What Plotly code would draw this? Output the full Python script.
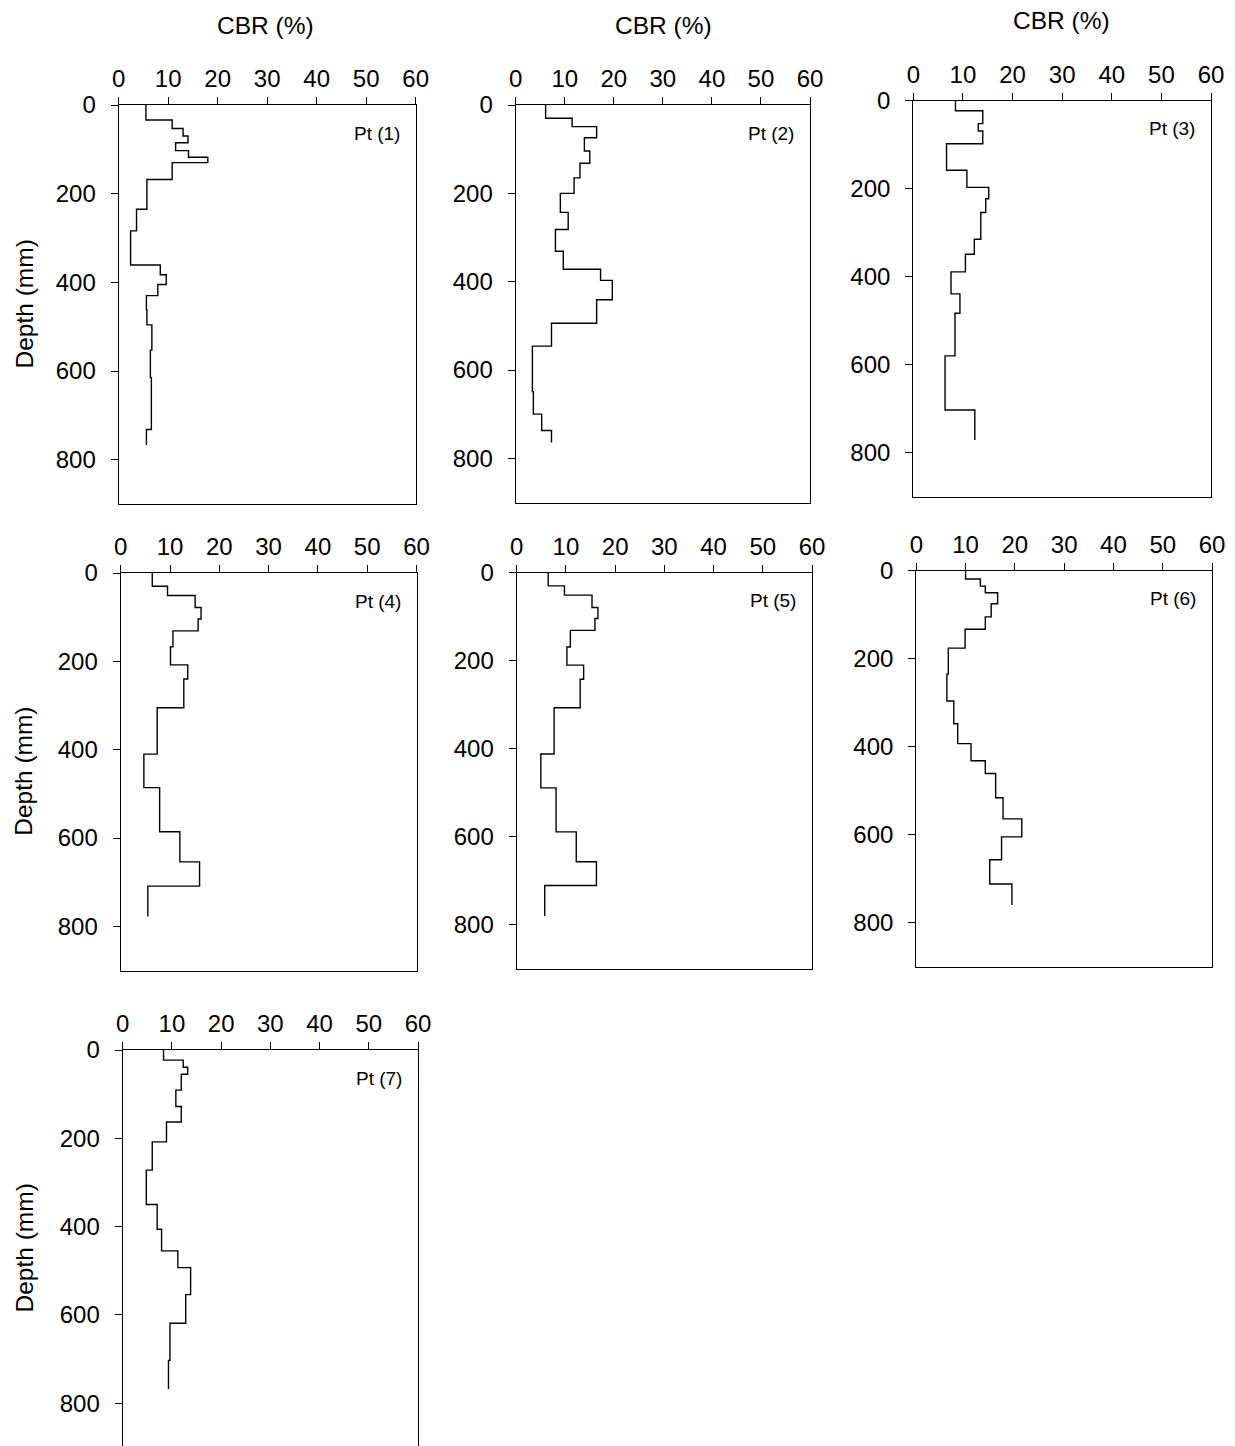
import plotly.graph_objects as go

# CBR (%) profiles with depth (mm); each layer spans depth_edges[i]..depth_edges[i+1]
pt1_depth_edges = [0, 34, 53, 70, 85, 103, 118, 130, 168, 235, 284, 361, 383, 405, 430, 462, 496, 553, 615, 732, 767]
pt1_cbr = [5.5, 10.8, 13.0, 14.0, 11.5, 14.1, 18.0, 10.8, 5.7, 3.6, 2.4, 8.4, 9.6, 7.9, 5.6, 5.7, 6.7, 6.4, 6.6, 5.6]

pt2_depth_edges = [0, 30, 49, 74, 104, 132, 165, 200, 243, 282, 331, 372, 397, 441, 494, 546, 649, 700, 737, 764]
pt2_cbr = [6.1, 11.5, 16.5, 14.0, 15.1, 13.1, 11.9, 9.1, 10.7, 8.1, 9.7, 17.3, 19.7, 16.5, 7.3, 3.4, 3.6, 5.3, 7.3]

pt3_depth_edges = [0, 23, 52, 69, 98, 158, 197, 223, 254, 315, 349, 389, 439, 483, 580, 703, 771]
pt3_cbr = [8.5, 14.0, 13.1, 14.0, 6.7, 10.8, 15.2, 14.6, 13.6, 12.3, 10.5, 7.6, 9.4, 8.4, 6.4, 12.4]

pt4_depth_edges = [0, 30, 51, 78, 104, 131, 167, 208, 240, 305, 410, 486, 586, 654, 709, 778]
pt4_cbr = [6.4, 9.5, 15.1, 16.3, 15.7, 10.6, 10.1, 13.6, 12.8, 7.4, 4.7, 7.9, 12.0, 16.0, 5.5]

pt5_depth_edges = [0, 30, 51, 79, 104, 131, 169, 210, 242, 307, 412, 489, 589, 657, 711, 780]
pt5_cbr = [6.4, 9.7, 15.3, 16.5, 15.9, 10.9, 10.2, 13.6, 12.9, 7.6, 4.9, 8.0, 12.1, 16.2, 5.7]

pt6_depth_edges = [0, 19, 35, 50, 75, 105, 133, 176, 235, 296, 348, 393, 432, 461, 516, 564, 605, 657, 712, 760]
pt6_cbr = [10.0, 13.0, 14.0, 16.5, 15.2, 14.0, 9.9, 6.5, 6.2, 7.6, 8.4, 11.1, 14.0, 16.1, 17.6, 21.4, 17.3, 14.9, 19.4]

pt7_depth_edges = [0, 23, 39, 55, 91, 128, 163, 208, 272, 350, 406, 455, 493, 554, 619, 703, 768]
pt7_cbr = [8.3, 12.3, 13.2, 11.9, 10.8, 11.9, 8.9, 6.0, 4.8, 7.0, 7.9, 11.2, 13.8, 12.8, 9.6, 9.3]

point_labels = ["Pt (1)", "Pt (2)", "Pt (3)", "Pt (4)", "Pt (5)", "Pt (6)", "Pt (7)"]
cbr_ticks = [0, 10, 20, 30, 40, 50, 60]
depth_ticks = [0, 200, 400, 600, 800]
x_title = "CBR (%)"
y_title = "Depth (mm)"

profiles = [
    (pt1_depth_edges, pt1_cbr),
    (pt2_depth_edges, pt2_cbr),
    (pt3_depth_edges, pt3_cbr),
    (pt4_depth_edges, pt4_cbr),
    (pt5_depth_edges, pt5_cbr),
    (pt6_depth_edges, pt6_cbr),
    (pt7_depth_edges, pt7_cbr),
]

W, H = 1235, 1446
FONT = "Liberation Sans, Arial, sans-serif"
TICK_SIZE = 24
TITLE_SIZE = 24.5
LABEL_SIZE = 19

# plot-area pixel boxes: left, right, top, bottom, depth at bottom edge
boxes = [
    (118.7, 415.7, 105.0, 504.0, 900),
    (515.7, 810.0, 105.0, 502.5, 900),
    (913.3, 1211.0, 100.7, 496.7, 900),
    (120.7, 416.5, 573.0, 970.5, 900),
    (516.7, 812.0, 572.7, 968.7, 900),
    (916.3, 1212.0, 570.7, 966.7, 900),
    (122.7, 418.0, 1050.0, 1446.0, 897),
]

fig = go.Figure()
layout = dict(
    width=W, height=H, autosize=False,
    margin=dict(l=0, r=0, t=0, b=0, pad=0, autoexpand=False),
    paper_bgcolor="white", plot_bgcolor="white",
    showlegend=False,
    font=dict(family=FONT, size=TICK_SIZE, color="black"),
)
annotations = []

for i, ((edges, cbr), (xl, xr, yt, yb, dmax)) in enumerate(zip(profiles, boxes), start=1):
    sx = "" if i == 1 else str(i)
    xs = list(cbr) + [cbr[-1]]
    fig.add_trace(go.Scatter(
        x=xs, y=edges, mode="lines",
        line=dict(color="black", width=1.4, shape="vh"),
        xaxis="x" + sx, yaxis="y" + sx, hoverinfo="skip",
    ))
    layout["xaxis" + sx] = dict(
        domain=[xl / W, xr / W], anchor="y" + sx, side="top",
        range=[0, 60], tickvals=cbr_ticks, ticks="outside", ticklen=7,
        tickwidth=1.3, tickcolor="black", showline=True, linecolor="black",
        linewidth=1.3, mirror=(i != 7), showgrid=False, zeroline=False,
        automargin=False,
        tickfont=dict(size=TICK_SIZE, family=FONT, color="black"),
        ticklabelstandoff=0,
    )
    layout["yaxis" + sx] = dict(
        domain=[1 - yb / H, 1 - yt / H], anchor="x" + sx,
        range=[dmax, 0], tickvals=depth_ticks, ticks="outside", ticklen=7,
        tickwidth=1.3, tickcolor="black", showline=True, linecolor="black",
        linewidth=1.3, mirror=True, showgrid=False, zeroline=False,
        automargin=False,
        tickfont=dict(size=TICK_SIZE, family=FONT, color="black"),
        ticklabelstandoff=10,
    )
    annotations.append(dict(
        text=point_labels[i - 1], xref="paper", yref="paper",
        x=(xr - 14) / W, y=1 - (yt + 28) / H, xanchor="right", yanchor="middle",
        showarrow=False, font=dict(size=LABEL_SIZE, family=FONT, color="black"),
    ))

# column titles over the top row
for cx, cy in [(265.7, 25), (663.0, 25), (1061.7, 21)]:
    annotations.append(dict(
        text=x_title, xref="paper", yref="paper", x=cx / W, y=1 - cy / H,
        xanchor="center", yanchor="middle", showarrow=False,
        font=dict(size=TITLE_SIZE, family=FONT, color="black"),
    ))

# row titles on the left column
for cy in [304.5, 771.8, 1248.5]:
    annotations.append(dict(
        text=y_title, xref="paper", yref="paper", x=24 / W, y=1 - cy / H,
        xanchor="center", yanchor="middle", textangle=-90, showarrow=False,
        font=dict(size=TITLE_SIZE, family=FONT, color="black"),
    ))

layout["annotations"] = annotations
fig.update_layout(**layout)
fig.write_html("out.html")
